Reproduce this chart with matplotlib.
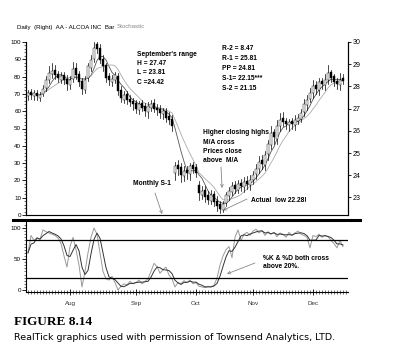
import matplotlib
matplotlib.use("Agg")
from matplotlib import pyplot as plt
from matplotlib.lines import Line2D
from matplotlib.patches import Rectangle
from matplotlib.ticker import MultipleLocator
import numpy as np
import pandas as pd

# Daily bars AA - ALCOA INC (right scale)
opens = [27.55, 27.75, 27.55, 27.70, 27.50, 27.65, 27.95, 28.30, 28.55, 28.75,
         28.55, 28.30, 28.50, 28.35, 28.05, 28.35, 28.85, 28.55, 28.25, 27.85,
         28.40, 28.85, 29.25, 29.90, 29.75, 29.25, 28.95, 28.45, 28.20, 28.30,
         28.45, 27.85, 27.40, 27.65, 27.45, 27.35, 27.25, 26.95, 27.25, 27.10,
         26.85, 27.05, 27.25, 27.05, 27.00, 26.75, 26.90, 26.65, 26.55, 24.10,
         24.45, 24.35, 23.95, 24.25, 24.05, 24.45, 24.35, 23.55, 23.10, 23.35,
         23.10, 22.85, 23.15, 22.85, 22.70, 22.45, 22.75, 23.05, 23.25, 23.55,
         23.35, 23.65, 23.45, 23.75, 23.55, 23.80, 24.05, 24.30, 24.70, 24.45,
         24.95, 25.35, 25.95, 25.65, 26.20, 26.60, 26.45, 26.25, 26.45, 26.25,
         26.45, 26.55, 26.85, 27.15, 27.45, 27.70, 28.05, 27.85, 28.25, 28.05,
         28.30, 28.65, 28.45, 28.25, 28.05, 28.40]
highs = [27.85, 27.90, 27.85, 27.85, 27.75, 28.05, 28.45, 28.90, 29.05, 28.95,
         28.70, 28.65, 28.65, 28.50, 28.45, 29.10, 29.05, 28.70, 28.40, 28.45,
         29.05, 29.40, 30.00, 30.05, 29.90, 29.40, 29.05, 28.60, 28.50, 28.65,
         28.60, 28.00, 27.80, 27.80, 27.60, 27.50, 27.40, 27.35, 27.40, 27.25,
         27.30, 27.40, 27.45, 27.20, 27.15, 27.05, 27.05, 26.85, 26.70, 24.60,
         24.70, 24.55, 24.40, 24.40, 24.55, 24.60, 24.50, 23.75, 23.50, 23.50,
         23.30, 23.35, 23.30, 23.05, 22.85, 22.85, 23.25, 23.45, 23.70, 23.75,
         23.80, 23.85, 23.90, 23.95, 24.00, 24.20, 24.50, 24.85, 24.90, 25.10,
         25.60, 26.20, 26.10, 26.50, 26.80, 26.85, 26.60, 26.55, 26.60, 26.70,
         26.75, 27.00, 27.45, 27.60, 27.95, 28.30, 28.25, 28.40, 28.40, 28.55,
         28.95, 28.75, 28.55, 28.40, 28.60, 28.55]
lows = [27.40, 27.45, 27.40, 27.40, 27.35, 27.55, 27.80, 28.15, 28.40, 28.35,
        28.20, 28.15, 28.10, 27.85, 27.90, 28.20, 28.35, 28.00, 27.65, 27.70,
        28.25, 28.70, 29.10, 29.50, 29.05, 28.70, 28.20, 28.05, 28.00, 28.15,
        27.60, 27.30, 27.25, 27.20, 27.10, 26.95, 26.80, 26.75, 26.90, 26.65,
        26.60, 26.90, 26.85, 26.70, 26.60, 26.55, 26.40, 26.30, 26.00, 23.80,
        24.00, 23.70, 23.75, 23.85, 23.80, 24.10, 23.90, 22.90, 22.95, 22.80,
        22.70, 22.70, 22.60, 22.40, 22.28, 22.35, 22.60, 22.90, 23.10, 23.20,
        23.20, 23.30, 23.25, 23.40, 23.35, 23.60, 23.85, 24.10, 24.30, 24.25,
        24.70, 25.20, 25.40, 25.40, 26.00, 26.20, 26.10, 26.00, 26.10, 26.05,
        26.30, 26.40, 26.65, 26.95, 27.30, 27.50, 27.65, 27.60, 27.90, 27.85,
        28.10, 28.20, 28.00, 27.90, 27.85, 28.10]
closes = [27.70, 27.60, 27.70, 27.55, 27.60, 27.90, 28.30, 28.60, 28.70, 28.50,
          28.40, 28.45, 28.30, 28.10, 28.30, 28.80, 28.50, 28.20, 27.90, 28.30,
          28.90, 29.20, 29.75, 29.70, 29.20, 28.90, 28.40, 28.30, 28.35, 28.50,
          27.80, 27.50, 27.60, 27.40, 27.30, 27.20, 27.00, 27.20, 27.05, 26.90,
          27.10, 27.20, 27.00, 26.95, 26.80, 26.90, 26.60, 26.50, 26.20, 24.40,
          24.30, 24.00, 24.20, 24.10, 24.40, 24.30, 24.10, 23.20, 23.30, 23.00,
          22.90, 23.10, 22.80, 22.60, 22.50, 22.70, 23.10, 23.30, 23.50, 23.40,
          23.60, 23.50, 23.70, 23.60, 23.80, 24.00, 24.30, 24.60, 24.50, 24.90,
          25.40, 25.90, 25.70, 26.20, 26.50, 26.40, 26.30, 26.40, 26.30, 26.50,
          26.60, 26.80, 27.20, 27.40, 27.70, 28.00, 27.90, 28.20, 28.10, 28.30,
          28.60, 28.40, 28.20, 28.10, 28.30, 28.25]

# stochastic %K per bar
pct_k = [60, 88, 80, 84, 82, 97, 94, 92, 90, 88,
         84, 75, 55, 37, 70, 85, 65, 40, 5, 30,
         60, 85, 100, 90, 60, 30, 18, 16, 22, 12,
         0, 6, 10, 8, 14, 10, 12, 16, 10, 14,
         18, 30, 43, 38, 27, 33, 37, 24, 18, 5,
         12, 10, 15, 12, 16, 10, 12, 6, 5, 4,
         6, 5, 8, 19, 40, 55, 65, 70, 52, 85,
         97, 80, 90, 93, 88, 95, 98, 92, 96, 88,
         94, 90, 93, 86, 92, 90, 85, 93, 88, 92,
         95, 90, 88, 85, 68, 88, 86, 90, 85, 88,
         86, 80, 75, 68, 80, 70]

months = ["Aug", "Sep", "Oct", "Nov", "Dec"]
month_bars = [14, 36, 56, 75, 95]

narrow = ["Liberation Sans", "DejaVu Sans"]

W, H = 396, 357
def fx(px):
    return px / W
def fy(py):
    return 1 - py / H

fig = plt.figure(figsize=(3.96, 3.57), dpi=100)
fig.patch.set_facecolor("white")

n = len(closes)
idx = np.arange(n)
xlim = (-0.67, 106.67)

# ---- price panel ----
ax = fig.add_axes([fx(26), fy(215), fx(348) - fx(26), fy(42) - fy(215)])
ax.set_xlim(*xlim)
ax.set_ylim(0, 100)
ax2 = ax.twinx()
ax2.set_ylim(22.21, 30)

for i in idx:
    o, h, l, c = opens[i], highs[i], lows[i], closes[i]
    ax2.plot([i, i], [l, h], color="black", lw=0.5, zorder=3)
    face = "white" if c >= o else "black"
    ax2.add_patch(Rectangle((i - 0.3, min(o, c)), 0.6, max(abs(c - o), 0.02),
                            facecolor=face, edgecolor="black", lw=0.3, zorder=4))

s = pd.Series(closes)
ax2.plot(idx, s.rolling(5, min_periods=1).mean(), color="#555555", lw=0.6, zorder=2)
ax2.plot(idx, s.rolling(9, min_periods=1).mean(), color="#aaaaaa", lw=0.6, zorder=2)

for a in (ax, ax2):
    a.spines["top"].set_visible(False)
    a.set_xticks([])
ax.spines["bottom"].set_color("#999999")
ax.spines["left"].set_linewidth(0.8)
ax2.spines["right"].set_linewidth(0.8)
ax.yaxis.set_major_locator(MultipleLocator(10))
ax.yaxis.set_minor_locator(MultipleLocator(2))
ax.tick_params(axis="y", which="major", length=3, width=0.6, pad=0.5, labelsize=4.5)
ax.tick_params(axis="y", which="minor", length=1.5, width=0.4)
ax2.yaxis.set_major_locator(MultipleLocator(1))
ax2.tick_params(axis="y", which="major", length=2, width=0.6, pad=1.5, labelsize=5)
for t in ax.get_yticklabels() + ax2.get_yticklabels():
    t.set_family(narrow)

# ---- stochastic panel ----
bx = fig.add_axes([fx(26), fy(292), fx(348) - fx(26), fy(222) - fy(292)])
bx.set_xlim(*xlim)
bx.set_ylim(-3.2, 109.7)
k = pd.Series(pct_k, dtype=float)
d = k.rolling(3, min_periods=1).mean()
bx.plot(idx, k, color="#999999", lw=0.7)
bx.plot(idx, d, color="#333333", lw=0.7)
bx.axhline(80, color="black", lw=0.9)
bx.axhline(20, color="black", lw=0.9)
bx.spines["top"].set_visible(False)
bx.spines["right"].set_visible(False)
bx.spines["left"].set_linewidth(0.8)
bx.spines["bottom"].set_linewidth(0.8)
bx.set_yticks([0, 50, 100])
bx.yaxis.set_minor_locator(MultipleLocator(5))
bx.set_xticks(month_bars)
bx.set_xticklabels(months)
bx.xaxis.set_minor_locator(MultipleLocator(1))
bx.tick_params(axis="y", which="major", length=3, width=0.6, pad=0.5, labelsize=4.5)
bx.tick_params(axis="y", which="minor", length=1.5, width=0.4)
bx.tick_params(axis="x", which="major", direction="inout", length=5, width=0.6, pad=4, labelsize=4.5, labelcolor="#333333")
bx.tick_params(axis="x", which="minor", direction="inout", length=2.5, width=0.4)
for t in bx.get_yticklabels() + bx.get_xticklabels():
    t.set_family(narrow)

# thick separator between panels
fig.add_artist(Line2D([fx(13), fx(360)], [fy(219.5), fy(219.5)], color="black", lw=2.2))

# ---- header ----
fig.text(fx(17), fy(27), "Daily  (Right)  AA - ALCOA INC  Bar", fontsize=4.4,
         family=narrow, va="center")
fig.text(fx(117), fy(27), "Stochastic", fontsize=4.4, family=narrow,
         color="#888888", va="center")

# ---- annotations ----
anno = dict(fontsize=4.8, family=narrow, fontweight="bold", va="center")
for j, txt in enumerate(["September's range", "H = 27.47", "L = 23.81", "C =24.42"]):
    fig.text(fx(137), fy(54 + j * 9.5), txt, **anno)
for j, txt in enumerate(["R-2 = 8.47", "R-1 = 25.81", "PP = 24.81", "S-1= 22.15***", "S-2 = 21.15"]):
    fig.text(fx(222), fy(48 + j * 10.2), txt, **anno)
for j, txt in enumerate(["Higher closing highs", "M/A cross", "Prices close", "above  M/A"]):
    fig.text(fx(203), fy(133 + j * 9.3), txt, **anno)
fig.text(fx(133), fy(184), "Monthly S-1", **anno)
fig.text(fx(251), fy(200), "Actual  low 22.28!", **anno)
fig.text(fx(263), fy(258), "%K & %D both cross", **anno)
fig.text(fx(263), fy(267), "above 20%.", **anno)

arrow = dict(arrowstyle="->", color="#888888", lw=0.6, shrinkA=0, shrinkB=0,
             mutation_scale=5)
ax2.annotate("", xy=(64.7, 23.42), xytext=(fx(221), fy(167)),
             textcoords="figure fraction", arrowprops=arrow)
ax2.annotate("", xy=(44.7, 22.25), xytext=(fx(155), fy(193)),
             textcoords="figure fraction", arrowprops=arrow)
ax2.annotate("", xy=(65, 22.42), xytext=(fx(247), fy(199)),
             textcoords="figure fraction", arrowprops=arrow)
bx.annotate("", xy=(66.3, 26), xytext=(fx(255), fy(263)),
            textcoords="figure fraction", arrowprops=arrow)

# ---- caption ----
fig.text(fx(14), fy(322), "FIGURE 8.14", fontsize=9.5, family="Liberation Serif",
         fontweight="bold", va="center")
fig.text(fx(14), fy(338), "RealTick graphics used with permission of Townsend Analytics, LTD.",
         fontsize=6.8, family="DejaVu Sans", va="center")

fig.savefig("out.png", dpi=100)
